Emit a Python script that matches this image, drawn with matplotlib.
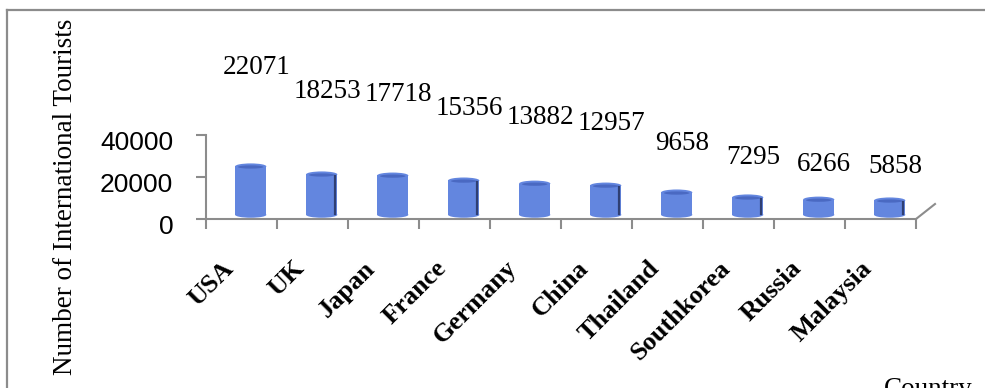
"""Excel-style 3D cylinder chart of international tourists by country."""

import matplotlib

matplotlib.use("Agg")
from matplotlib import pyplot as plt
from matplotlib.lines import Line2D
from matplotlib.patches import Ellipse, Rectangle
from matplotlib.transforms import ScaledTranslation

countries = ["USA", "UK", "Japan", "France", "Germany", "China",
             "Thailand", "Southkorea", "Russia", "Malaysia"]
tourists = [22071, 18253, 17718, 15356, 13882, 12957, 9658, 7295, 6266, 5858]
y_ticks = [0, 20000, 40000]

BODY = "#6386DF"
TOP = "#4A69C2"
RIM = "#2F3F73"
AXIS = "#8C8C8C"

W, H, DPI = 985, 388, 100
figure = plt.figure(figsize=(W / DPI, H / DPI), dpi=DPI)
axis = figure.add_axes([206 / W, 1 - 219 / H, 710 / W, 84 / H])

axis.set_xlim(-0.5, len(countries) - 0.5)
axis.set_ylim(0, 40000)

# cylinders
bar_w = 0.44
shift = 0.13
base = 2000
ell_h = 2800
for i, value in enumerate(tourists):
    cx = i + shift
    top = base + value + 1000
    axis.add_patch(Ellipse((cx, base), bar_w, ell_h, facecolor=BODY,
                           edgecolor="none", clip_on=False, zorder=2))
    axis.add_patch(Rectangle((cx - bar_w / 2, base), bar_w, top - base,
                             facecolor=BODY, edgecolor="none", clip_on=False, zorder=2))
    axis.add_patch(Ellipse((cx, top), bar_w, ell_h, facecolor=BODY,
                           edgecolor="none", clip_on=False, zorder=3))
    axis.add_patch(Ellipse((cx, top - 300), bar_w * 0.82, ell_h * 0.55, facecolor=TOP,
                           edgecolor="none", clip_on=False, zorder=4))
    if i % 2 == 1:
        axis.plot([cx + bar_w * 0.42] * 2, [base + 600, top - 900], color=RIM,
                  linewidth=1.6, clip_on=False, zorder=4)
    axis.annotate(f"{value}", (cx, value * 2.9 + 8000), xytext=(4, 0),
                  textcoords="offset points", ha="center", va="center",
                  fontsize=19.5, family="Liberation Serif", annotation_clip=False)

# axes styling
for name in ("top", "right"):
    axis.spines[name].set_visible(False)
for name in ("left", "bottom"):
    axis.spines[name].set_color(AXIS)
    axis.spines[name].set_linewidth(1.5)

axis.set_yticks(y_ticks)
axis.set_yticklabels([str(v) for v in y_ticks], fontsize=19, family="Liberation Sans")
axis.tick_params(axis="y", direction="out", length=7.5, width=1.5, color=AXIS, pad=16)
for label in axis.get_yticklabels():
    label.set_transform(label.get_transform()
                        + ScaledTranslation(0, -4 / 72, figure.dpi_scale_trans))

axis.set_xticks([i - 0.5 for i in range(len(countries) + 1)], minor=True)
axis.tick_params(axis="x", which="minor", direction="out", length=7, width=1.5, color=AXIS)
axis.set_xticks(range(len(countries)))
axis.set_xticklabels(countries, rotation=45, ha="right", rotation_mode="anchor",
                     fontsize=19, fontweight="bold", family="Liberation Serif")
axis.tick_params(axis="x", which="major", length=0, pad=27)
for label in axis.get_xticklabels():
    label.set_transform(label.get_transform()
                        + ScaledTranslation(-0.2, 0, figure.dpi_scale_trans))

# 3D floor edge on the right
axis.add_line(Line2D([1, 1 + 19 / 710], [0, 15 / 84], transform=axis.transAxes,
                     color=AXIS, linewidth=1.5, clip_on=False))

figure.text(66 / W, 1 - 197 / H, "Number of International Tourists", rotation=90,
            ha="center", va="center", fontsize=19.5, family="Liberation Serif")
figure.text(884 / W, 1 - 377 / H, "Country", ha="left", va="top",
            fontsize=19.5, family="Liberation Serif")

# outer chart border (top and left visible)
figure.add_artist(Line2D([7 / W, 1], [1 - 10 / H] * 2, transform=figure.transFigure,
                         color=AXIS, linewidth=1.6))
figure.add_artist(Line2D([7 / W] * 2, [0, 1 - 10 / H], transform=figure.transFigure,
                         color=AXIS, linewidth=1.6))

figure.savefig("out.png", dpi=DPI)
